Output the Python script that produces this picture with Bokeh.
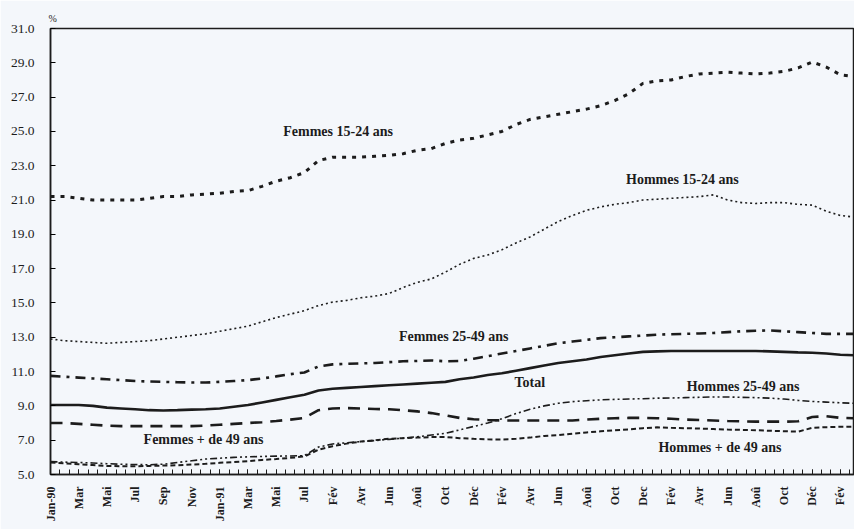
import math
from bokeh.plotting import figure
from bokeh.models import ColumnDataSource, Range1d, FixedTicker, PrintfTickFormatter, Label
from bokeh.embed import file_html
from bokeh.resources import INLINE

# ---- data -------------------------------------------------------------
tick_labels = ["Jan-90", "Mar", "Mai", "Jul", "Sep", "Nov", "Jan-91", "Mar", "Mai", "Jul",
               "Fév", "Avr", "Jun", "Aoû", "Oct", "Déc", "Fév", "Avr", "Jun", "Aoû",
               "Oct", "Dec", "Fév", "Avr", "Jun", "Aoû", "Oct", "Déc", "Fév"]

months = list(range(58))

femmes_15_24 = [21.2, 21.2, 21.1, 21.0, 21.0, 21.0, 21.0, 21.1, 21.2, 21.2,
                21.3, 21.35, 21.4, 21.5, 21.55, 21.8, 22.1, 22.3, 22.6, 23.3,
                23.5, 23.5, 23.5, 23.55, 23.6, 23.7, 23.9, 24.0, 24.3, 24.5,
                24.6, 24.8, 25.0, 25.4, 25.7, 25.85, 26.0, 26.15, 26.3, 26.5,
                26.8, 27.2, 27.8, 27.95, 28.0, 28.2, 28.35, 28.4, 28.45, 28.4,
                28.35, 28.4, 28.5, 28.7, 29.05, 28.75, 28.3, 28.2]

hommes_15_24 = [12.9, 12.8, 12.75, 12.7, 12.65, 12.7, 12.75, 12.8, 12.9, 13.0,
                13.1, 13.2, 13.35, 13.5, 13.65, 13.9, 14.15, 14.35, 14.55, 14.85,
                15.05, 15.15, 15.3, 15.4, 15.55, 15.9, 16.2, 16.4, 16.8, 17.25,
                17.6, 17.8, 18.1, 18.5, 18.85, 19.3, 19.75, 20.1, 20.4, 20.6,
                20.75, 20.85, 21.0, 21.05, 21.1, 21.15, 21.2, 21.3, 21.0, 20.85,
                20.8, 20.85, 20.85, 20.75, 20.7, 20.35, 20.1, 20.0]

femmes_25_49 = [10.75, 10.7, 10.65, 10.6, 10.55, 10.5, 10.45, 10.42, 10.4, 10.38,
                10.36, 10.36, 10.4, 10.45, 10.5, 10.6, 10.72, 10.85, 10.95, 11.3,
                11.42, 11.45, 11.48, 11.5, 11.55, 11.6, 11.62, 11.65, 11.6, 11.62,
                11.75, 11.9, 12.05, 12.2, 12.35, 12.5, 12.65, 12.75, 12.85, 12.95,
                13.0, 13.05, 13.1, 13.15, 13.18, 13.2, 13.22, 13.25, 13.3, 13.35,
                13.38, 13.4, 13.35, 13.3, 13.25, 13.2, 13.2, 13.2]

total = [9.05, 9.05, 9.05, 9.0, 8.9, 8.85, 8.8, 8.75, 8.73, 8.75,
         8.78, 8.8, 8.85, 8.95, 9.05, 9.2, 9.35, 9.5, 9.65, 9.9,
         10.0, 10.05, 10.1, 10.15, 10.2, 10.25, 10.3, 10.35, 10.4, 10.55,
         10.65, 10.8, 10.9, 11.05, 11.2, 11.35, 11.5, 11.6, 11.7, 11.85,
         11.95, 12.05, 12.15, 12.18, 12.2, 12.2, 12.2, 12.2, 12.2, 12.2,
         12.2, 12.18, 12.15, 12.12, 12.1, 12.05, 11.98, 11.95]

femmes_49 = [8.0, 8.0, 7.95, 7.9, 7.85, 7.82, 7.82, 7.82, 7.82, 7.82,
             7.82, 7.85, 7.9, 7.95, 8.0, 8.05, 8.12, 8.2, 8.3, 8.75,
             8.85, 8.87, 8.85, 8.82, 8.8, 8.75, 8.68, 8.58, 8.45, 8.3,
             8.22, 8.18, 8.15, 8.15, 8.15, 8.15, 8.15, 8.15, 8.2, 8.25,
             8.28, 8.3, 8.3, 8.28, 8.25, 8.2, 8.18, 8.15, 8.12, 8.1,
             8.08, 8.08, 8.08, 8.1, 8.35, 8.4, 8.3, 8.28]

hommes_25_49 = [5.75, 5.72, 5.7, 5.67, 5.63, 5.6, 5.58, 5.57, 5.6, 5.7,
                5.8, 5.9, 5.95, 6.0, 6.03, 6.05, 6.07, 6.08, 6.1, 6.6,
                6.78, 6.85, 6.92, 6.98, 7.05, 7.12, 7.2, 7.3, 7.4, 7.6,
                7.8, 8.0, 8.25, 8.55, 8.8, 9.0, 9.15, 9.25, 9.3, 9.35,
                9.38, 9.4, 9.42, 9.45, 9.46, 9.48, 9.5, 9.52, 9.52, 9.5,
                9.48, 9.45, 9.4, 9.32, 9.26, 9.22, 9.18, 9.15]

hommes_49 = [5.7, 5.65, 5.6, 5.55, 5.5, 5.48, 5.48, 5.5, 5.52, 5.54,
             5.58, 5.62, 5.68, 5.73, 5.78, 5.85, 5.9, 5.97, 6.05, 6.45,
             6.65, 6.8, 6.92, 7.0, 7.08, 7.12, 7.15, 7.18, 7.18, 7.12,
             7.08, 7.05, 7.04, 7.08, 7.15, 7.25, 7.3, 7.38, 7.45, 7.52,
             7.58, 7.62, 7.7, 7.75, 7.72, 7.7, 7.68, 7.65, 7.62, 7.6,
             7.58, 7.55, 7.52, 7.5, 7.72, 7.76, 7.78, 7.78]

y_ticks = [5, 7, 9, 11, 13, 15, 17, 19, 21, 23, 25, 27, 29, 31]

# series label texts with their anchor (month, value)
series_labels = [
    ("Femmes 15-24 ans", 16.5, 25.0),
    ("Hommes 15-24 ans", 40.8, 22.2),
    ("Femmes 25-49 ans", 24.7, 13.06),
    ("Total", 32.9, 10.35),
    ("Hommes 25-49 ans", 45.1, 10.15),
    ("Femmes + de 49 ans", 6.6, 7.04),
    ("Hommes + de 49 ans", 43.1, 6.6),
]

# ---- figure -----------------------------------------------------------
BG = "#f4f7fb"
INK = "#1c1c1c"
SERIF = "Liberation Serif"

src = ColumnDataSource(dict(m=months, f1524=femmes_15_24, h1524=hommes_15_24,
                            f2549=femmes_25_49, tot=total, f49=femmes_49,
                            h2549=hommes_25_49, h49=hommes_49))

p = figure(width=854, height=529, output_backend="svg", toolbar_location=None,
           x_range=Range1d(0, 57.0), y_range=Range1d(5, 31),
           min_border_left=50, min_border_right=0, min_border_top=28, min_border_bottom=55,
           background_fill_color=BG, border_fill_color=BG)
p.xgrid.visible = False
p.ygrid.visible = False
p.outline_line_color = INK
p.outline_line_width = 1.5

# unit "%" above the y axis
p.title.text = "%"
p.title.text_font = SERIF
p.title.text_font_size = "10px"
p.title.text_font_style = "normal"
p.title.text_color = INK
p.title.align = "left"
p.title.offset = -2
p.title.standoff = 10

styles = [
    ("f1524", 3.0, "4 6"),
    ("h1524", 1.6, "2 3"),
    ("f2549", 2.6, "10 6 3 6"),
    ("tot", 2.6, "solid"),
    ("f49", 2.6, "12 8"),
    ("h2549", 1.6, "7 3 2 3 2 3"),
    ("h49", 2.0, "5 3"),
]
for col, w, dash in styles:
    p.line(x="m", y=col, source=src, line_color=INK, line_width=w, line_dash=dash)

# x axis
major = [2 * i for i in range(len(tick_labels))]
minor = [i * 2.0 / 3.0 for i in range(0, 87)]
p.xaxis.ticker = FixedTicker(ticks=major, minor_ticks=minor)
p.xaxis.major_label_overrides = {2 * i: t for i, t in enumerate(tick_labels)}
p.xaxis.major_label_orientation = math.pi / 2
p.xaxis.major_label_text_font = SERIF
p.xaxis.major_label_text_font_style = "bold"
p.xaxis.major_label_text_font_size = "12px"
p.xaxis.major_label_text_color = INK
p.xaxis.major_label_standoff = 12
p.xaxis.major_tick_in = 5
p.xaxis.major_tick_out = 0
p.xaxis.minor_tick_in = 5
p.xaxis.minor_tick_out = 0
p.xaxis.axis_line_width = 1.5
p.xaxis.axis_line_color = INK
p.xaxis.major_tick_line_color = INK
p.xaxis.minor_tick_line_color = INK

# y axis
p.yaxis.ticker = FixedTicker(ticks=y_ticks)
p.yaxis.formatter = PrintfTickFormatter(format="%.1f")
p.yaxis.major_label_text_font = SERIF
p.yaxis.major_label_text_font_size = "13.5px"
p.yaxis.major_label_text_color = INK
p.yaxis.major_label_standoff = 16
p.yaxis.major_tick_in = 5
p.yaxis.major_tick_out = 0
p.yaxis.minor_tick_line_color = None
p.yaxis.axis_line_width = 1.5
p.yaxis.axis_line_color = INK

# series labels
for txt, xm, yv in series_labels:
    p.add_layout(Label(x=xm, y=yv, text=txt, text_font=SERIF, text_font_size="14px",
                       text_font_style="bold", text_color=INK,
                       text_align="left", text_baseline="middle"))

open("out.html", "w").write(file_html(p, INLINE))
